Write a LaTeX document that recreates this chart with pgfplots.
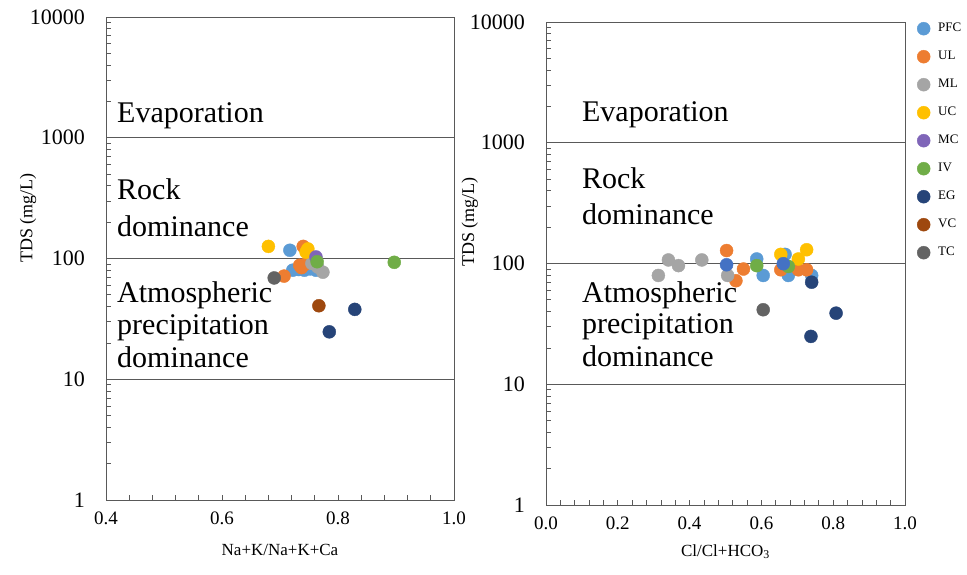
\documentclass[border=0pt]{standalone}
\usepackage{pgfplots}
\pgfplotsset{compat=1.18}
\usepackage{fontspec}
\setmainfont{Liberation Serif}
\definecolor{cPFC}{HTML}{5B9BD5}
\definecolor{cUL}{HTML}{ED7D31}
\definecolor{cML}{HTML}{A5A5A5}
\definecolor{cUC}{HTML}{FFC000}
\definecolor{cMC}{HTML}{7F65B8}
\definecolor{cIV}{HTML}{70AD47}
\definecolor{cEG}{HTML}{264478}
\definecolor{cVC}{HTML}{9E480E}
\definecolor{cTC}{HTML}{636363}
\definecolor{cBL}{HTML}{4472C4}
\definecolor{axgray}{HTML}{595959}
\begin{document}
\begin{tikzpicture}
\path[use as bounding box] (0,0) rectangle (967bp,575bp);
% ---------------- left panel
\begin{axis}[
  scale only axis, height=483bp, width=348bp,
  at={(106bp,75bp)}, anchor=south west,
  ymode=log, ymin=1, ymax=10000,
  ytick={1,10,100,1000,10000},
  yticklabels={1,10,100,1000,10000},
  xmin=0.4, xmax=1.0,
  xtick={0.4,0.6,0.8,1.0}, xticklabels={0.4,0.6,0.8,1.0},
  minor x tick num=4,
  tick align=inside, tick pos=left,
  major tick length=5bp, minor tick length=5bp,
  tick style={axgray, line width=0.7bp},
  axis line style={axgray, line width=0.8bp},
  yticklabel style={font=\fontsize{22bp}{24bp}\selectfont, inner sep=0pt, xshift=-21bp},
  xticklabel style={font=\fontsize{19bp}{20bp}\selectfont, inner sep=0pt, yshift=-12bp},
  xlabel={Na+K/Na+K+Ca},
  xlabel style={at={(rel axis cs:0.5,0)}, anchor=base, yshift=-55bp, font=\fontsize{17bp}{20bp}\selectfont},
  ylabel={TDS (mg/L)},
  ylabel style={at={(rel axis cs:-0.224,0.584)}, rotate=0, anchor=center, font=\fontsize{18bp}{20bp}\selectfont},
  clip=false,
]
\addplot[axgray, line width=0.8bp, forget plot] coordinates {(0.4,10) (1.0,10)};
\addplot[axgray, line width=0.8bp, forget plot] coordinates {(0.4,100) (1.0,100)};
\addplot[axgray, line width=0.8bp, forget plot] coordinates {(0.4,1000) (1.0,1000)};
\addplot[only marks, mark=*, mark size=6.5bp, color=cPFC] coordinates {(0.717,117) (0.722,80) (0.732,81) (0.742,80) (0.752,82) (0.762,80)};
\addplot[only marks, mark=*, mark size=6.5bp, color=cUL] coordinates {(0.740,126) (0.734,88) (0.744,90) (0.707,71.5) (0.737,84)};
\addplot[only marks, mark=*, mark size=6.5bp, color=cML] coordinates {(0.755,91) (0.765,85) (0.774,77)};
\addplot[only marks, mark=*, mark size=6.5bp, color=cUC] coordinates {(0.680,126) (0.748,120) (0.745,113)};
\addplot[only marks, mark=*, mark size=6.5bp, color=cMC] coordinates {(0.762,103)};
\addplot[only marks, mark=*, mark size=6.5bp, color=cIV] coordinates {(0.764,94) (0.897,93)};
\addplot[only marks, mark=*, mark size=6.5bp, color=cEG] coordinates {(0.829,37.9) (0.785,24.7)};
\addplot[only marks, mark=*, mark size=6.5bp, color=cVC] coordinates {(0.767,40.6)};
\addplot[only marks, mark=*, mark size=6.5bp, color=cTC] coordinates {(0.690,69)};
\node[anchor=base west, inner sep=0pt, font=\fontsize{30bp}{36bp}\selectfont] at (rel axis cs:0.0316,0.781) {Evaporation};
\node[anchor=base west, inner sep=0pt, font=\fontsize{30bp}{36bp}\selectfont] at (rel axis cs:0.0316,0.623) {Rock};
\node[anchor=base west, inner sep=0pt, font=\fontsize{30bp}{36bp}\selectfont] at (rel axis cs:0.0316,0.546) {dominance};
\node[anchor=base west, inner sep=0pt, font=\fontsize{30bp}{36bp}\selectfont] at (rel axis cs:0.0316,0.408) {Atmospheric};
\node[anchor=base west, inner sep=0pt, font=\fontsize{30bp}{36bp}\selectfont] at (rel axis cs:0.0316,0.342) {precipitation};
\node[anchor=base west, inner sep=0pt, font=\fontsize{30bp}{36bp}\selectfont] at (rel axis cs:0.0316,0.275) {dominance};
\end{axis}
% ---------------- right panel
\begin{axis}[
  scale only axis, height=483bp, width=359bp,
  at={(546bp,70bp)}, anchor=south west,
  ymode=log, ymin=1, ymax=10000,
  ytick={1,10,100,1000,10000},
  yticklabels={1,10,100,1000,10000},
  xmin=0, xmax=1.0,
  xtick={0,0.2,0.4,0.6,0.8,1.0}, xticklabels={0.0,0.2,0.4,0.6,0.8,1.0},
  minor x tick num=4,
  tick align=inside, tick pos=left,
  major tick length=5bp, minor tick length=5bp,
  tick style={axgray, line width=0.7bp},
  axis line style={axgray, line width=0.8bp},
  yticklabel style={font=\fontsize{22bp}{24bp}\selectfont, inner sep=0pt, xshift=-21bp},
  xticklabel style={font=\fontsize{19bp}{20bp}\selectfont, inner sep=0pt, yshift=-12bp},
  xlabel={Cl/Cl+HCO\textsubscript{3}},
  xlabel style={at={(rel axis cs:0.5,0)}, anchor=base, yshift=-51bp, font=\fontsize{17bp}{20bp}\selectfont},
  ylabel={TDS (mg/L)},
  ylabel style={at={(rel axis cs:-0.212,0.586)}, rotate=0, anchor=center, font=\fontsize{18bp}{20bp}\selectfont},
  clip=false,
  legend style={at={(rel axis cs:1,1)}, anchor=north west, xshift=12bp, yshift=0bp,
    draw=none, fill=none, inner sep=0pt,
    font=\fontsize{13bp}{14bp}\selectfont,
    nodes={inner sep=0pt, text height=9bp, text depth=3bp},
    row sep=15bp,
    /tikz/every odd column/.append style={column sep=8bp}},
  legend cell align=left,
]
\addplot[axgray, line width=0.8bp, forget plot] coordinates {(0,10) (1.0,10)};
\addplot[axgray, line width=0.8bp, forget plot] coordinates {(0,100) (1.0,100)};
\addplot[axgray, line width=0.8bp, forget plot] coordinates {(0,1000) (1.0,1000)};
\addplot[only marks, mark=*, mark size=6.5bp, color=cPFC] coordinates {(0.587,109) (0.605,79.6) (0.666,119) (0.675,79.6) (0.740,79.6)};
\addlegendentry{PFC}
\addplot[only marks, mark=*, mark size=6.5bp, color=cUL] coordinates {(0.503,128) (0.529,72) (0.550,90) (0.654,88.7) (0.703,88.7) (0.726,88.7)};
\addlegendentry{UL}
\addplot[only marks, mark=*, mark size=6.5bp, color=cML] coordinates {(0.313,79.6) (0.341,107) (0.369,96) (0.434,107) (0.506,79.6)};
\addlegendentry{ML}
\addplot[only marks, mark=*, mark size=6.5bp, color=cUC] coordinates {(0.654,119) (0.703,109) (0.726,130)};
\addlegendentry{UC}
\addlegendimage{only marks, mark=*, mark size=6.5bp, color=cMC}
\addlegendentry{MC}
\addplot[only marks, mark=*, mark size=6.5bp, color=cIV] coordinates {(0.587,96) (0.675,94.5)};
\addlegendentry{IV}
\addplot[only marks, mark=*, mark size=6.5bp, color=cEG] coordinates {(0.740,70) (0.808,38.8) (0.738,24.9)};
\addlegendentry{EG}
\addlegendimage{only marks, mark=*, mark size=6.5bp, color=cVC}
\addlegendentry{VC}
\addplot[only marks, mark=*, mark size=6.5bp, color=cTC] coordinates {(0.605,41.4)};
\addlegendentry{TC}
\addplot[only marks, mark=*, mark size=6.5bp, color=cBL, forget plot] coordinates {(0.503,97.6) (0.661,99.6)};
\node[anchor=base west, inner sep=0pt, font=\fontsize{30bp}{36bp}\selectfont] at (rel axis cs:0.100,0.794) {Evaporation};
\node[anchor=base west, inner sep=0pt, font=\fontsize{30bp}{36bp}\selectfont] at (rel axis cs:0.100,0.656) {Rock};
\node[anchor=base west, inner sep=0pt, font=\fontsize{30bp}{36bp}\selectfont] at (rel axis cs:0.100,0.580) {dominance};
\node[anchor=base west, inner sep=0pt, font=\fontsize{30bp}{36bp}\selectfont] at (rel axis cs:0.100,0.420) {Atmospheric};
\node[anchor=base west, inner sep=0pt, font=\fontsize{30bp}{36bp}\selectfont] at (rel axis cs:0.100,0.356) {precipitation};
\node[anchor=base west, inner sep=0pt, font=\fontsize{30bp}{36bp}\selectfont] at (rel axis cs:0.100,0.286) {dominance};
\end{axis}
\end{tikzpicture}
\end{document}
